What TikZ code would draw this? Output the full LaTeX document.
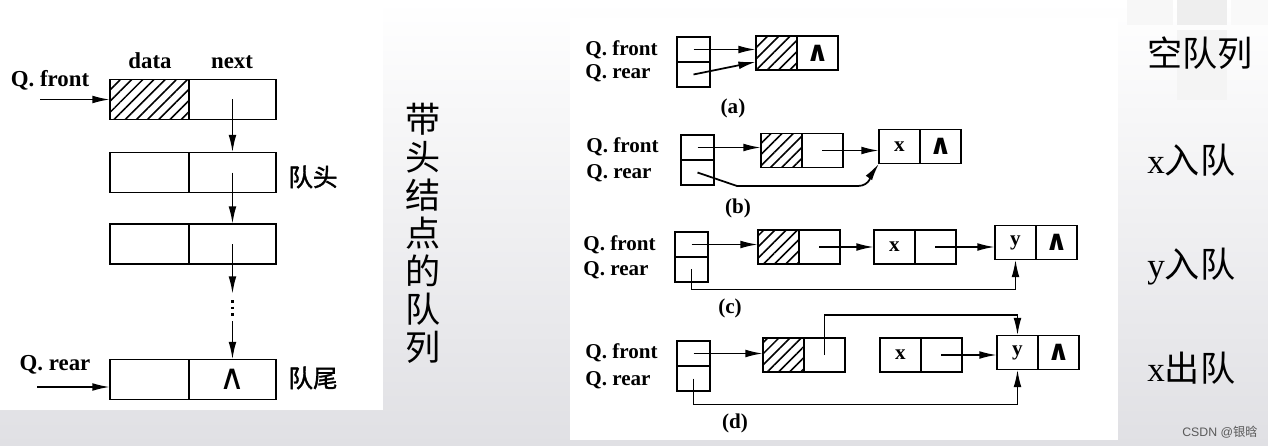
\documentclass[tikz,border=0pt]{standalone}
\usepackage{fontspec}
\setmainfont{Liberation Serif}
\setsansfont{Liberation Sans}
\newfontfamily\cjk{Noto Sans CJK SC}
\newfontfamily\cjkb{Noto Sans CJK SC}[FakeBold=1.5]
\newfontfamily\symf{DejaVu Sans}
\usetikzlibrary{positioning,arrows.meta,patterns.meta}

\definecolor{bggray}{RGB}{224,224,228}
\newcommand{\nil}{{\symf\fontsize{16}{16}\selectfont ∧}}
\newcommand{\bignil}{{\symf\fontsize{20}{20}\selectfont ∧}}

\tikzset{
  lcell/.style={draw, line width=1.1pt, inner sep=0pt, outer sep=0pt,
    minimum width=#1, minimum height=0.8cm},
  lcell/.default=1.74cm,
  rcell/.style={draw, line width=1pt, inner sep=0pt, outer sep=0pt,
    minimum width=0.82cm, minimum height=0.68cm,
    font=\bfseries\fontsize{12}{12}\selectfont},
  pcell/.style={draw, line width=1pt, inner sep=0pt, outer sep=0pt,
    minimum width=0.66cm, minimum height=0.5cm},
  hatched/.style={pattern={Lines[angle=45,distance=4.5pt,line width=0.9pt]}},
  ptr/.style={line width=1pt, -{Latex[length=10pt,width=4.4pt]}},
  qlabel/.style={font=\bfseries\fontsize{12}{12}\selectfont, anchor=west, inner sep=0pt},
  tag/.style={font=\bfseries\fontsize{12}{12}\selectfont, inner sep=0pt},
  biglabel/.style={font=\fontsize{20}{20}\selectfont, anchor=west, inner sep=0pt},
}

\begin{document}
\begin{tikzpicture}[x=0.02cm, y=-0.02cm]
  \useasboundingbox (0,0) rectangle (1268,446);

  % Background and panels
  \shade[top color=white, bottom color=bggray] (0,0) rectangle (1268,446);
  \fill[gray!6] (1127,0) rectangle (1173,25);
  \fill[gray!13] (1177,0) rectangle (1227,25);
  \fill[gray!9] (1177,30) rectangle (1227,100);
  \fill[gray!5] (1231,0) rectangle (1268,25);
  \fill[white] (0,0) rectangle (383,410);
  \fill[white] (570,18) rectangle (1118,440);

  % ---------- Left: queue with head node ----------
  \node[lcell=1.58cm, hatched, anchor=west] (d1) at (110,99.5) {};
  \node[lcell, right=0pt of d1] (n1) {};
  \node[lcell=1.58cm, anchor=west] (d2) at (110,172.5) {};
  \node[lcell, right=0pt of d2] (n2) {};
  \node[lcell=1.58cm, anchor=west] (d3) at (110,244) {};
  \node[lcell, right=0pt of d3] (n3) {};
  \node[lcell=1.58cm, anchor=west] (d4) at (110,379.5) {};
  \node[lcell, right=0pt of d4] (n4) {\bignil};

  % Field names
  \node[font=\bfseries\fontsize{13}{13}\selectfont] (ldata) at (150,61) {data};
  \node[font=\bfseries\fontsize{13}{13}\selectfont] (lnext) at (232,62) {next};

  % Pointers into the list
  \node[font=\bfseries\fontsize{13}{13}\selectfont] (lqf) at (50,80) {Q. front};
  \node[font=\bfseries\fontsize{13}{13}\selectfont] (lqr) at (55,365) {Q. rear};
  \coordinate (qfs) at (40,99.5);
  \coordinate (qrs) at (37,387);
  \draw[ptr] (qfs) -- (d1.west);
  \draw[ptr] (qrs) -- (qrs -| d4.west);

  % next links
  \coordinate (gapa) at (0,294);
  \coordinate (gapb) at (0,300);
  \coordinate (gapc) at (0,318);
  \coordinate (gapd) at (0,321);
  \draw[ptr] (n1.center) -- (n2.north);
  \draw[ptr] (n2.center) -- (n3.north);
  \draw[ptr] (n3.center) -- (n3.center |- gapa);
  \draw[line width=1.6pt, dash pattern=on 1.6pt off 2.2pt] (n3.center |- gapb) -- (n3.center |- gapc);
  \draw[ptr] (n3.center |- gapd) -- (n4.north);

  % head / tail marks
  \node[font=\cjkb\fontsize{14}{14}\selectfont] (lhead) at (313,177) {队头};
  \node[font=\cjkb\fontsize{14}{14}\selectfont] (ltail) at (313,378) {队尾};

  % Vertical caption
  \node[font=\cjk\fontsize{20}{21.6}\selectfont, align=center] (vcap) at (423,233)
    {带\\头\\结\\点\\的\\队\\列};

  % ---------- (a) empty queue ----------
  \node[qlabel] (qfa) at (585,50) {Q. front};
  \node[qlabel] (qra) at (585,73) {Q. rear};
  \node[pcell, anchor=south west] (pa1) at (677,62) {};
  \node[pcell, below=0pt of pa1] (pa2) {};
  \node[rcell, hatched, anchor=west] (ha) at (756,53) {};
  \node[rcell, right=0pt of ha] (ea) {\nil};
  \draw[ptr] (pa1.center) -- (pa1.center -| ha.west);
  \draw[ptr] (pa2.center) -- ([yshift=-5pt]ha.west);
  \node[tag] (ta) at (733,108) {(a)};

  % ---------- (b) x enters ----------
  \node[qlabel] (qfb) at (586,147) {Q. front};
  \node[qlabel] (qrb) at (586,173) {Q. rear};
  \node[pcell, anchor=south west] (pb1) at (681,160) {};
  \node[pcell, below=0pt of pb1] (pb2) {};
  \node[rcell, hatched, anchor=west] (hb) at (761,150.5) {};
  \node[rcell, right=0pt of hb] (eb) {};
  \node[rcell, anchor=west] (xb) at (879,146.5) {x};
  \node[rcell, right=0pt of xb] (nb) {\nil};
  \draw[ptr] (pb1.center) -- (pb1.center -| hb.west);
  \draw[ptr] (eb.center) -- (eb.center -| xb.west);
  \coordinate (rb1) at (737,186);
  \coordinate (rb2) at (858,186);
  \draw[ptr] (pb2.center) -- (rb1) -- (rb2) to[out=0, in=-125] (xb.south west);
  \node[tag] (tb) at (738,208) {(b)};

  % ---------- (c) y enters ----------
  \node[qlabel] (qfc) at (583,245) {Q. front};
  \node[qlabel] (qrc) at (583,270) {Q. rear};
  \node[pcell, anchor=south west] (pc1) at (675,257) {};
  \node[pcell, below=0pt of pc1] (pc2) {};
  \node[rcell, hatched, anchor=west] (hc) at (758,247) {};
  \node[rcell, right=0pt of hc] (ec) {};
  \node[rcell, anchor=west] (xc) at (874,247) {x};
  \node[rcell, right=0pt of xc] (nc) {};
  \node[rcell, anchor=west] (yc) at (995,242.5) {y};
  \node[rcell, right=0pt of yc] (lc) {\nil};
  \draw[ptr] (pc1.center) -- (pc1.center -| hc.west);
  \draw[ptr] (ec.center) -- (ec.center -| xc.west);
  \draw[ptr] (nc.center) -- (nc.center -| yc.west);
  \draw[ptr] (pc2.center) -- ++(0,20) -| (yc.south);
  \node[tag] (tc) at (730,308) {(c)};

  % ---------- (d) x leaves ----------
  \node[qlabel] (qfd) at (585,353) {Q. front};
  \node[qlabel] (qrd) at (585,380) {Q. rear};
  \node[pcell, anchor=south west] (pd1) at (677,366) {};
  \node[pcell, below=0pt of pd1] (pd2) {};
  \node[rcell, hatched, anchor=west] (hd) at (763,355) {};
  \node[rcell, right=0pt of hd] (ed) {};
  \node[rcell, anchor=west] (xd) at (880,355) {x};
  \node[rcell, right=0pt of xd] (nd) {};
  \node[rcell, anchor=west] (yd) at (997,352.5) {y};
  \node[rcell, right=0pt of yd] (ld) {\nil};
  \draw[ptr] (pd1.center) -- (pd1.center -| hd.west);
  \draw[ptr] (ed.center) -- ++(0,-40) -| (yd.north);
  \draw[ptr] (nd.center) -- (nd.center -| yd.west);
  \draw[ptr] (pd2.center) -- ++(0,26) -| (yd.south);
  \node[tag] (td) at (735,423) {(d)};

  % ---------- Right-hand captions ----------
  \node[biglabel] (capa) at (1147,53) {\cjk 空队列};
  \node[biglabel] (capb) at (1147,160) {x\cjk 入队};
  \node[biglabel] (capc) at (1147,267) {y\cjk 入队};
  \node[biglabel] (capd) at (1147,368) {x\cjk 出队};
  \node[font=\sffamily\fontsize{7}{7}\selectfont, text=gray!70!black] (mark) at (1220,432)
    {CSDN @{\cjk 银晗}};
\end{tikzpicture}
\end{document}
